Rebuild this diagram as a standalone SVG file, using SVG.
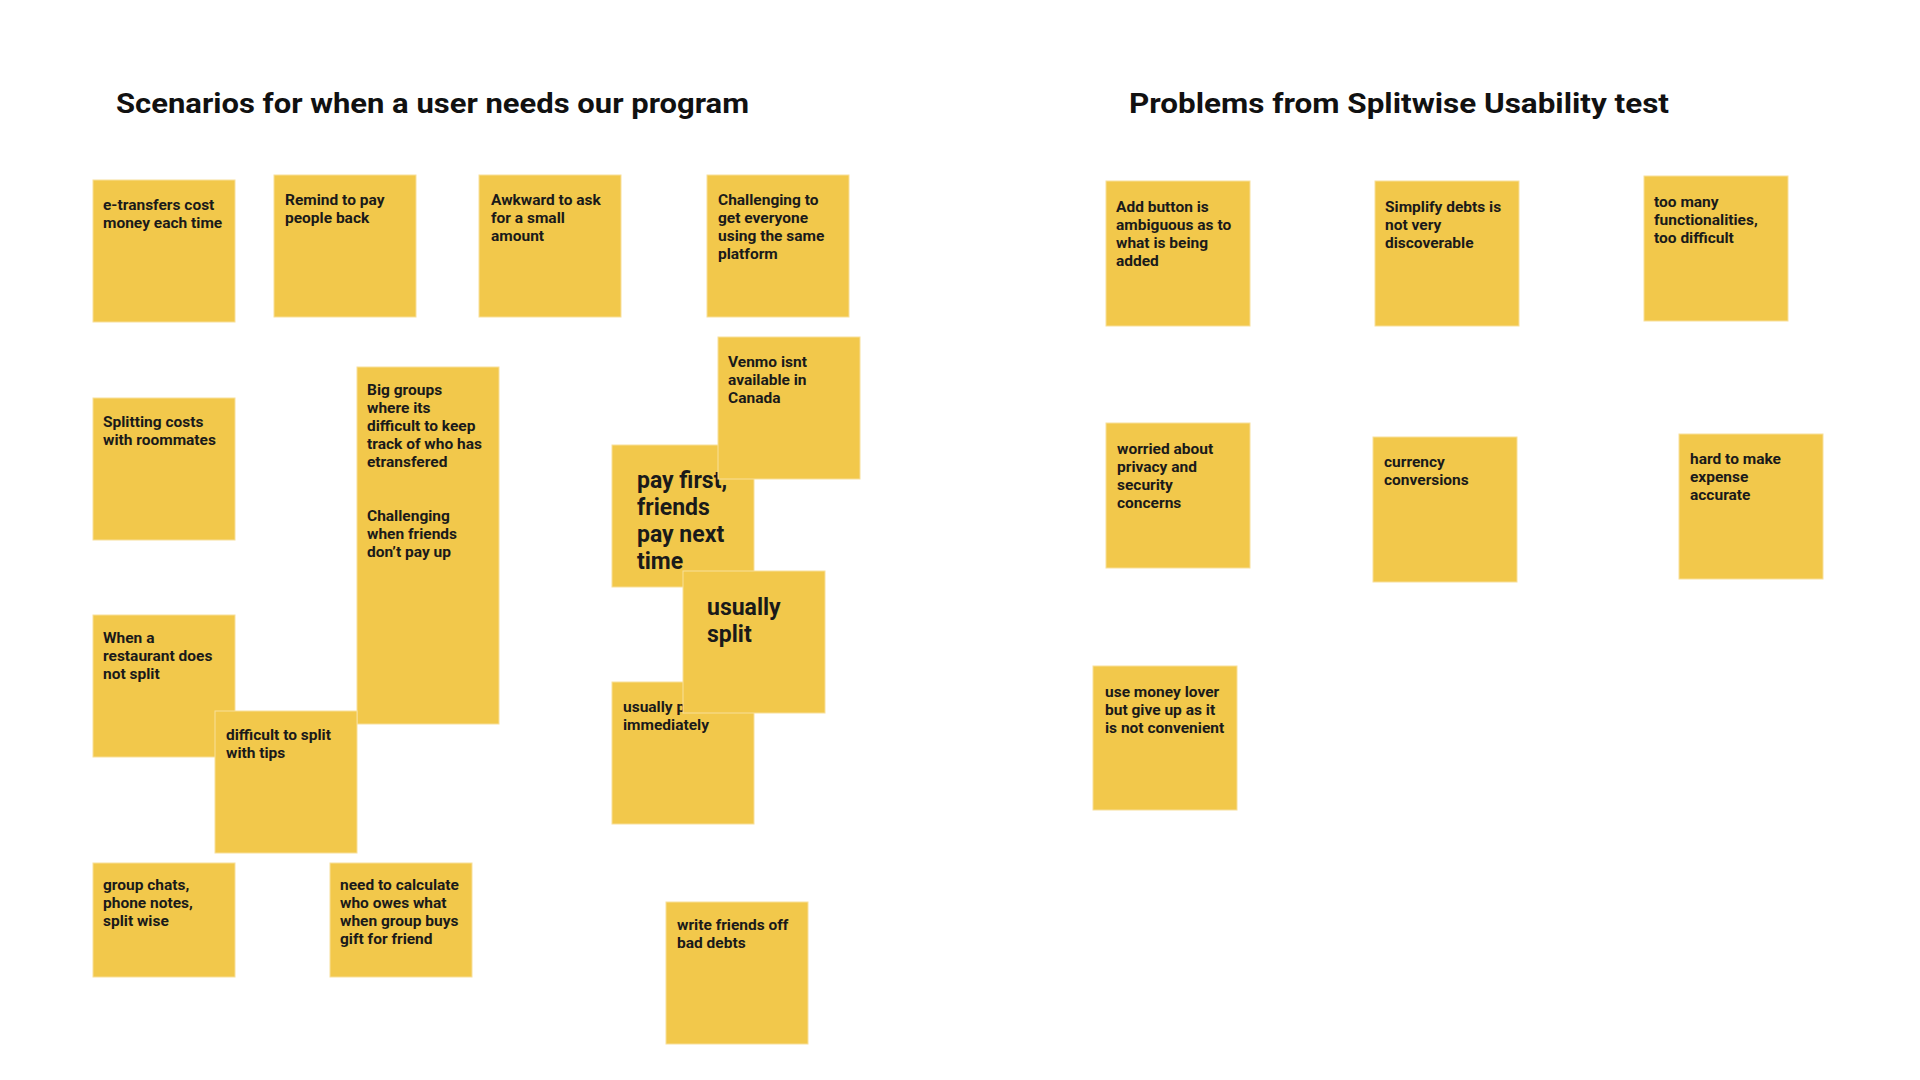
<svg xmlns="http://www.w3.org/2000/svg" width="1920" height="1080" viewBox="0 0 1920 1080">
<style>
.bg{fill:#ffffff}
.note{fill:#f2c84b;stroke:#f8df9a;stroke-width:1}
.t{font-family:Roboto,"Liberation Sans",sans-serif;font-weight:700;font-size:15.5px;fill:#1a1a1a}
.big{font-family:Roboto,"Liberation Sans",sans-serif;font-weight:700;font-size:23px;fill:#1a1a1a}
.title{font-family:Roboto,"Liberation Sans",sans-serif;font-weight:700;font-size:28.5px;fill:#111111}
</style>
<rect class="bg" x="0" y="0" width="1920" height="1080"/>
<g id="titles">
<text class="title" x="116" y="113" textLength="633" lengthAdjust="spacingAndGlyphs">Scenarios for when a user needs our program</text>
<text class="title" x="1129" y="113" textLength="540" lengthAdjust="spacingAndGlyphs">Problems from Splitwise Usability test</text>
</g>
<g id="connectors"></g>
<g id="n-etransfers"><rect class="note" x="93" y="180" width="142" height="142"/>
<text class="t" x="103" y="210">e-transfers cost</text><text class="t" x="103" y="228">money each time</text></g>
<g id="n-remind"><rect class="note" x="274" y="175" width="142" height="142"/>
<text class="t" x="285" y="205">Remind to pay</text><text class="t" x="285" y="223">people back</text></g>
<g id="n-awkward"><rect class="note" x="479" y="175" width="142" height="142"/>
<text class="t" x="491" y="205">Awkward to ask</text><text class="t" x="491" y="223">for a small</text><text class="t" x="491" y="241">amount</text></g>
<g id="n-challenging"><rect class="note" x="707" y="175" width="142" height="142"/>
<text class="t" x="718" y="205">Challenging to</text><text class="t" x="718" y="223">get everyone</text><text class="t" x="718" y="241">using the same</text><text class="t" x="718" y="259">platform</text></g>
<g id="n-splitting"><rect class="note" x="93" y="398" width="142" height="142"/>
<text class="t" x="103" y="427">Splitting costs</text><text class="t" x="103" y="445">with roommates</text></g>
<g id="n-biggroups"><rect class="note" x="357" y="367" width="142" height="357"/>
<text class="t" x="367" y="395">Big groups</text><text class="t" x="367" y="413">where its</text><text class="t" x="367" y="431">difficult to keep</text><text class="t" x="367" y="449">track of who has</text><text class="t" x="367" y="467">etransfered</text>
<text class="t" x="367" y="521">Challenging</text><text class="t" x="367" y="539">when friends</text><text class="t" x="367" y="557">don’t pay up</text></g>
<g id="n-whena"><rect class="note" x="93" y="615" width="142" height="142"/>
<text class="t" x="103" y="643">When a</text><text class="t" x="103" y="661">restaurant does</text><text class="t" x="103" y="679">not split</text></g>
<g id="n-tips"><rect class="note" x="215" y="711" width="142" height="142"/>
<text class="t" x="226" y="740">difficult to split</text><text class="t" x="226" y="758">with tips</text></g>
<g id="n-groupchats"><rect class="note" x="93" y="863" width="142" height="114"/>
<text class="t" x="103" y="890">group chats,</text><text class="t" x="103" y="908">phone notes,</text><text class="t" x="103" y="926">split wise</text></g>
<g id="n-calculate"><rect class="note" x="330" y="863" width="142" height="114"/>
<text class="t" x="340" y="890">need to calculate</text><text class="t" x="340" y="908">who owes what</text><text class="t" x="340" y="926">when group buys</text><text class="t" x="340" y="944">gift for friend</text></g>
<g id="n-payfirst"><rect class="note" x="612" y="445" width="142" height="142"/>
<text class="big" x="637" y="488">pay first,</text><text class="big" x="637" y="515">friends</text><text class="big" x="637" y="542">pay next</text><text class="big" x="637" y="569">time</text></g>
<g id="n-venmo"><rect class="note" x="718" y="337" width="142" height="142"/>
<text class="t" x="728" y="367">Venmo isnt</text><text class="t" x="728" y="385">available in</text><text class="t" x="728" y="403">Canada</text></g>
<g id="n-usuallyp"><rect class="note" x="612" y="682" width="142" height="142"/>
<text class="t" x="623" y="712">usually p</text><text class="t" x="623" y="730">immediately</text></g>
<g id="n-usuallysplit"><rect class="note" x="683" y="571" width="142" height="142"/>
<text class="big" x="707" y="615">usually</text><text class="big" x="707" y="642">split</text></g>
<g id="n-writeoff"><rect class="note" x="666" y="902" width="142" height="142"/>
<text class="t" x="677" y="930">write friends off</text><text class="t" x="677" y="948">bad debts</text></g>
<g id="n-addbutton"><rect class="note" x="1106" y="181" width="144" height="145"/>
<text class="t" x="1116" y="212">Add button is</text><text class="t" x="1116" y="230">ambiguous as to</text><text class="t" x="1116" y="248">what is being</text><text class="t" x="1116" y="266">added</text></g>
<g id="n-simplify"><rect class="note" x="1375" y="181" width="144" height="145"/>
<text class="t" x="1385" y="212">Simplify debts is</text><text class="t" x="1385" y="230">not very</text><text class="t" x="1385" y="248">discoverable</text></g>
<g id="n-toomany"><rect class="note" x="1644" y="176" width="144" height="145"/>
<text class="t" x="1654" y="207">too many</text><text class="t" x="1654" y="225">functionalities,</text><text class="t" x="1654" y="243">too difficult</text></g>
<g id="n-worried"><rect class="note" x="1106" y="423" width="144" height="145"/>
<text class="t" x="1117" y="454">worried about</text><text class="t" x="1117" y="472">privacy and</text><text class="t" x="1117" y="490">security</text><text class="t" x="1117" y="508">concerns</text></g>
<g id="n-currency"><rect class="note" x="1373" y="437" width="144" height="145"/>
<text class="t" x="1384" y="467">currency</text><text class="t" x="1384" y="485">conversions</text></g>
<g id="n-hard"><rect class="note" x="1679" y="434" width="144" height="145"/>
<text class="t" x="1690" y="464">hard to make</text><text class="t" x="1690" y="482">expense</text><text class="t" x="1690" y="500">accurate</text></g>
<g id="n-moneylover"><rect class="note" x="1093" y="666" width="144" height="144"/>
<text class="t" x="1105" y="697">use money lover</text><text class="t" x="1105" y="715">but give up as it</text><text class="t" x="1105" y="733">is not convenient</text></g>
</svg>
